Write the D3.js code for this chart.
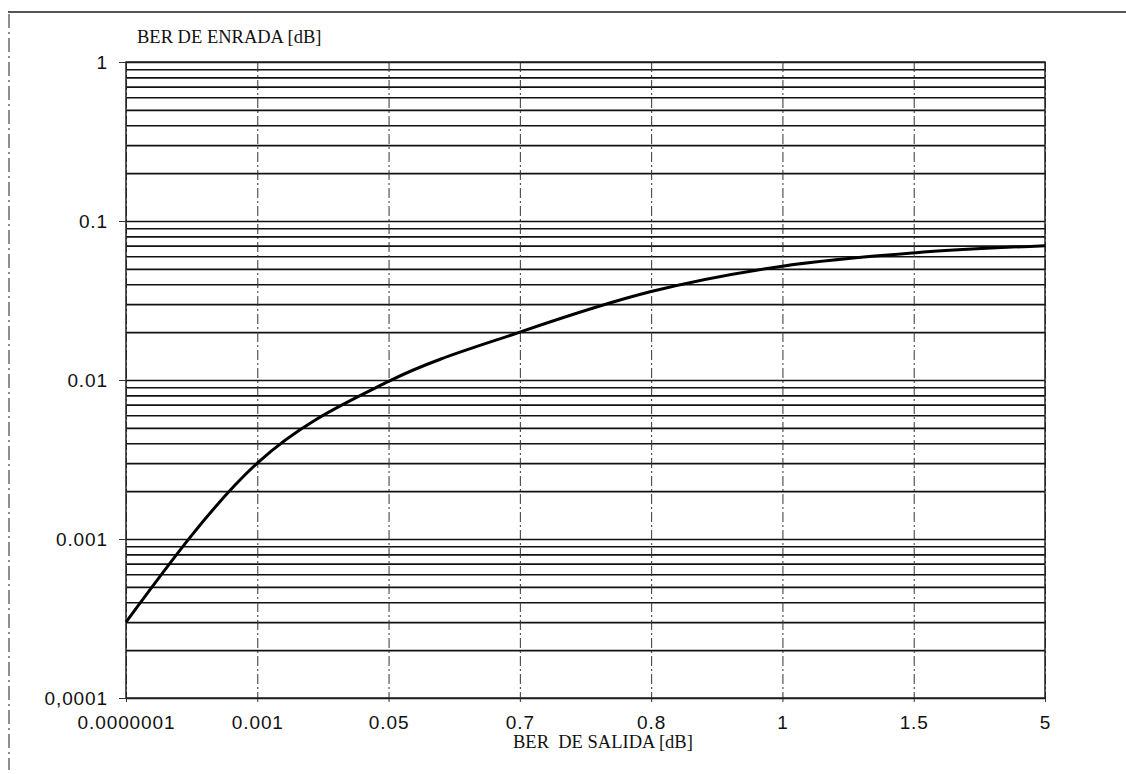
<!DOCTYPE html>
<html>
<head>
<meta charset="utf-8">
<script src="https://cdn.jsdelivr.net/npm/d3@7"></script>
<style>
  body { margin: 0; background: #fff; }
  svg { display: block; }
  .num { font-family: "Liberation Sans", Arial, sans-serif; font-size: 19px; letter-spacing: 0.9px; fill: #111; }
  .ttl { font-family: "Liberation Serif", "Times New Roman", serif; font-size: 18.5px; fill: #111; }
</style>
</head>
<body>
<div id="chart"></div>
<script>
// categories on the x axis (BER de salida)
var salida = ["0.0000001", "0.001", "0.05", "0.7", "0.8", "1", "1.5", "5"];
// BER de entrada
var entrada = [0.0003, 0.003, 0.0098, 0.02, 0.036, 0.052, 0.063, 0.07];
// major tick values and their labels on the y axis
var yMajor = [1, 0.1, 0.01, 0.001, 0.0001];
var yLabels = ["1", "0.1", "0.01", "0.001", "0,0001"];

var svgWidth = 1126;
var svgHeight = 774;
var margins = { top: 62, right: 81, bottom: 76, left: 126 };
var chartWidth = svgWidth - margins.left - margins.right;
var chartHeight = svgHeight - margins.top - margins.bottom;

var svg = d3.select('#chart')
    .append('svg')
    .attr('width', svgWidth)
    .attr('height', svgHeight);

// scan frame: top rule and dashed left edge
svg.append('line')
    .attr('x1', 8).attr('x2', svgWidth).attr('y1', 12).attr('y2', 12)
    .attr('stroke', '#555').attr('stroke-width', 2);
svg.append('line')
    .attr('x1', 9).attr('x2', 9).attr('y1', 14).attr('y2', 770)
    .attr('stroke', '#444').attr('stroke-width', 1.2)
    .attr('stroke-dasharray', '14,4,2,4');

var chartGroup = svg.append('g')
    .attr('transform', `translate(${margins.left}, ${margins.top})`);

var xScale = d3.scalePoint()
    .domain(salida)
    .range([0, chartWidth]);

var yScale = d3.scaleLog()
    .domain([0.0001, 1])
    .range([chartHeight, 0]);

// horizontal grid at every log tick (1..9 per decade)
chartGroup.append('g')
    .attr('class', 'hgrid')
    .call(d3.axisLeft(yScale).tickSize(-chartWidth).tickFormat(''))
    .call(g => g.select('.domain').remove())
    .selectAll('line')
    .attr('stroke', '#111')
    .attr('stroke-width', 1.6);

// vertical dash-dot grid at each category
chartGroup.append('g')
    .attr('class', 'vgrid')
    .call(d3.axisBottom(xScale).tickSize(chartHeight + 6).tickFormat(''))
    .call(g => g.select('.domain').remove())
    .selectAll('line')
    .attr('stroke', '#333')
    .attr('stroke-width', 1)
    .attr('stroke-dasharray', '10,3,2,3');

// plot border
chartGroup.append('rect')
    .attr('x', 0).attr('y', 0)
    .attr('width', chartWidth).attr('height', chartHeight)
    .attr('fill', 'none')
    .attr('stroke', '#222')
    .attr('stroke-width', 1.5);

// y axis: major ticks + labels
var leftAxis = d3.axisLeft(yScale)
    .tickValues(yMajor)
    .tickSize(7)
    .tickPadding(11)
    .tickFormat((d, i) => yLabels[i]);

chartGroup.append('g')
    .call(leftAxis)
    .call(g => g.select('.domain').remove())
    .call(g => g.selectAll('line').attr('stroke', '#333'))
    .selectAll('text')
    .attr('class', 'num')
    .attr('font-size', null)
    .attr('font-family', null);

// x axis labels
var bottomAxis = d3.axisBottom(xScale)
    .tickSize(0)
    .tickPadding(18);

chartGroup.append('g')
    .attr('transform', `translate(0, ${chartHeight})`)
    .call(bottomAxis)
    .call(g => g.select('.domain').remove())
    .selectAll('text')
    .attr('class', 'num')
    .attr('font-size', null)
    .attr('font-family', null);

// the curve
var line = d3.line()
    .x((d, i) => xScale(salida[i]))
    .y(d => yScale(d))
    .curve(d3.curveMonotoneX);

chartGroup.append('path')
    .datum(entrada)
    .attr('d', line)
    .attr('fill', 'none')
    .attr('stroke', '#000')
    .attr('stroke-width', 3)
    .attr('stroke-linejoin', 'round');

// axis titles
svg.append('text')
    .attr('class', 'ttl')
    .attr('x', 137)
    .attr('y', 43)
    .text('BER DE ENRADA [dB]');

svg.append('text')
    .attr('class', 'ttl')
    .attr('x', 513)
    .attr('y', 748)
    .attr('xml:space', 'preserve')
    .style('white-space', 'pre')
    .text('BER  DE SALIDA [dB]');
</script>
</body>
</html>
